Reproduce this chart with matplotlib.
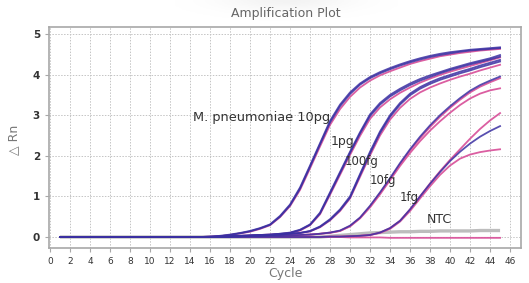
import numpy as np
import matplotlib
matplotlib.use("Agg")
import matplotlib.pyplot as plt

cycles = list(range(1, 46))
Z15 = [0.0] * 15  # flat baseline cycles 1-15

# M. pneumoniae 10pg (blue, blue, pink)
pg10_a = Z15 + [0.01, 0.03, 0.06, 0.10, 0.15, 0.22, 0.31, 0.52, 0.80, 1.22, 1.76, 2.31, 2.86, 3.26, 3.56,
                3.78, 3.94, 4.06, 4.16, 4.25, 4.33, 4.40, 4.46, 4.51, 4.55, 4.58, 4.61, 4.63, 4.65, 4.67]
pg10_b = Z15 + [0.01, 0.02, 0.05, 0.09, 0.14, 0.21, 0.30, 0.50, 0.78, 1.19, 1.73, 2.28, 2.82, 3.22, 3.52,
                3.75, 3.91, 4.03, 4.13, 4.22, 4.30, 4.37, 4.43, 4.48, 4.52, 4.56, 4.59, 4.61, 4.63, 4.65]
pg10_c = Z15 + [0.01, 0.02, 0.05, 0.09, 0.13, 0.20, 0.29, 0.49, 0.76, 1.16, 1.69, 2.23, 2.76, 3.15, 3.45,
                3.68, 3.85, 3.98, 4.08, 4.17, 4.26, 4.33, 4.39, 4.45, 4.49, 4.53, 4.56, 4.59, 4.61, 4.63]
# 1pg
pg1_a = Z15 + [0.00, 0.01, 0.02, 0.03, 0.04, 0.05, 0.06, 0.08, 0.11, 0.18, 0.31, 0.60, 1.10, 1.60, 2.10,
               2.58, 3.02, 3.30, 3.50, 3.65, 3.78, 3.89, 3.98, 4.06, 4.14, 4.21, 4.28, 4.34, 4.40, 4.48]
pg1_b = Z15 + [0.00, 0.01, 0.02, 0.03, 0.04, 0.05, 0.06, 0.08, 0.10, 0.17, 0.30, 0.58, 1.07, 1.57, 2.07,
               2.55, 2.98, 3.26, 3.46, 3.61, 3.74, 3.85, 3.94, 4.03, 4.11, 4.18, 4.25, 4.31, 4.37, 4.44]
pg1_c = Z15 + [0.00, 0.01, 0.02, 0.03, 0.04, 0.05, 0.06, 0.07, 0.10, 0.16, 0.29, 0.56, 1.04, 1.53, 2.02,
               2.49, 2.91, 3.19, 3.39, 3.55, 3.68, 3.80, 3.90, 3.99, 4.07, 4.14, 4.21, 4.28, 4.35, 4.42]
# 100fg
fg100_a = Z15 + [0.00, 0.00, 0.01, 0.02, 0.03, 0.04, 0.05, 0.06, 0.08, 0.10, 0.15, 0.26, 0.44, 0.68, 1.00,
                 1.55, 2.10, 2.60, 3.00, 3.30, 3.53, 3.69, 3.81, 3.91, 3.99, 4.07, 4.14, 4.22, 4.29, 4.36]
fg100_b = Z15 + [0.00, 0.00, 0.01, 0.02, 0.03, 0.04, 0.05, 0.06, 0.08, 0.10, 0.14, 0.25, 0.42, 0.66, 0.97,
                 1.52, 2.06, 2.56, 2.96, 3.26, 3.49, 3.65, 3.77, 3.87, 3.95, 4.03, 4.10, 4.18, 4.25, 4.32]
fg100_c = Z15 + [0.00, 0.00, 0.01, 0.02, 0.03, 0.04, 0.05, 0.06, 0.07, 0.10, 0.14, 0.24, 0.41, 0.64, 0.95,
                 1.48, 2.01, 2.50, 2.89, 3.18, 3.40, 3.56, 3.68, 3.78, 3.87, 3.95, 4.02, 4.10, 4.17, 4.24]
# 10fg
fg10_a = Z15 + [0.00, 0.00, 0.01, 0.01, 0.02, 0.02, 0.03, 0.03, 0.04, 0.05, 0.06, 0.08, 0.11, 0.16, 0.28,
                0.48, 0.77, 1.10, 1.45, 1.82, 2.16, 2.47, 2.75, 3.00, 3.22, 3.42, 3.60, 3.74, 3.85, 3.95]
fg10_b = Z15 + [0.00, 0.00, 0.01, 0.01, 0.02, 0.02, 0.03, 0.03, 0.04, 0.05, 0.06, 0.08, 0.11, 0.15, 0.27,
                0.47, 0.75, 1.08, 1.43, 1.79, 2.13, 2.43, 2.71, 2.96, 3.18, 3.38, 3.56, 3.70, 3.81, 3.91]
fg10_c = Z15 + [0.00, 0.00, 0.01, 0.01, 0.02, 0.02, 0.03, 0.03, 0.04, 0.05, 0.06, 0.08, 0.10, 0.15, 0.26,
                0.46, 0.73, 1.05, 1.40, 1.75, 2.07, 2.36, 2.62, 2.85, 3.06, 3.25, 3.41, 3.53, 3.61, 3.66]
# 1fg
fg1_a = Z15 + [0.00, 0.00, 0.00, 0.00, 0.00, 0.00, 0.00, 0.00, 0.00, 0.00, 0.00, 0.00, 0.01, 0.01, 0.02,
               0.03, 0.05, 0.11, 0.22, 0.40, 0.68, 1.00, 1.32, 1.62, 1.90, 2.16, 2.42, 2.66, 2.87, 3.05]
fg1_b = Z15 + [0.00, 0.00, 0.00, 0.00, 0.00, 0.00, 0.00, 0.00, 0.00, 0.00, 0.00, 0.00, 0.01, 0.01, 0.02,
               0.03, 0.05, 0.11, 0.22, 0.40, 0.68, 1.00, 1.31, 1.60, 1.87, 2.10, 2.30, 2.47, 2.61, 2.73]
fg1_c = Z15 + [0.00, 0.00, 0.00, 0.00, 0.00, 0.00, 0.00, 0.00, 0.00, 0.00, 0.00, 0.00, 0.01, 0.01, 0.02,
               0.03, 0.05, 0.10, 0.20, 0.38, 0.64, 0.95, 1.25, 1.53, 1.76, 1.93, 2.03, 2.09, 2.13, 2.16]
# NTC
ntc_gray = Z15 + [0.00, 0.00, 0.00, 0.00, 0.00, 0.00, 0.00, 0.00, 0.00, 0.00, 0.00, 0.00, 0.02, 0.04, 0.06,
                  0.08, 0.10, 0.11, 0.12, 0.13, 0.13, 0.14, 0.14, 0.15, 0.15, 0.15, 0.15, 0.16, 0.16, 0.16]
ntc_pink = Z15 + [0.00, 0.00, 0.00, 0.00, 0.00, 0.00, 0.00, 0.00, 0.00, 0.00, 0.00, 0.00, 0.00, 0.00, -0.01,
                  -0.01, -0.01, -0.01, -0.02, -0.02, -0.02, -0.02, -0.02, -0.02, -0.02, -0.02, -0.02, -0.02, -0.02, -0.02]

x_ticks = list(range(0, 47, 2))
y_ticks = [0, 1, 2, 3, 4, 5]

labels = ["M. pneumoniae 10pg", "1pg", "100fg", "10fg", "1fg", "NTC"]
label_pos = [(14.3, 2.93), (28.1, 2.36), (29.5, 1.87), (32.0, 1.40), (35.0, 0.98), (37.7, 0.44)]

BLUE = "#3b30a2"
PINK = "#d9559c"
GRAY = "#bdbdbd"

fig = plt.figure(figsize=(5.29, 2.83), dpi=100)
fig.patch.set_facecolor("white")

# soft gray glow behind the title
bg = fig.add_axes([0.33, 0.90, 0.42, 0.10], zorder=-5)
gx, gy = np.meshgrid(np.linspace(-1, 1, 200), np.linspace(-1, 1, 50))
glow = np.exp(-(gx ** 2) * 3 - (gy + 1.0) ** 2 * 1.5)
bg.imshow(glow, cmap="Greys", vmin=0, vmax=10, aspect="auto", origin="upper")
bg.axis("off")

ax = fig.add_axes([0.0926, 0.1237, 0.8924, 0.7809])
ax.set_facecolor("white")

ax.plot(cycles, ntc_gray, color=GRAY, lw=2.4, solid_capstyle="butt", zorder=2)
pinks = [ntc_pink, pg10_c, pg1_c, fg100_c, fg10_b, fg10_c, fg1_a, fg1_c]
blues = [pg10_a, pg10_b, pg1_a, pg1_b, fg100_a, fg100_b, fg10_a, fg1_b]
for s in pinks:
    ax.plot(cycles, s, color=PINK, lw=1.3, alpha=0.95, zorder=3)
for s in blues:
    ax.plot(cycles, s, color=BLUE, lw=1.3, alpha=0.85, zorder=4)

ax.set_xlim(-0.1, 47.1)
ax.set_ylim(-0.27, 5.17)
ax.set_xticks(x_ticks)
ax.set_yticks(y_ticks)
ax.grid(True, color="#c4c4c4", lw=0.7, linestyle=(0, (1.5, 1.5)))
ax.set_axisbelow(True)
for sp in ax.spines.values():
    sp.set_color("#a8a8a8")
    sp.set_linewidth(1.2)
ax.tick_params(axis="both", colors="#a8a8a8", length=3, width=0.8, labelcolor="#333333")
narrow = ["Liberation Sans Narrow", "DejaVu Sans"]
for t in ax.get_xticklabels():
    t.set_fontsize(6.5)
    t.set_family(narrow)
for t in ax.get_yticklabels():
    t.set_fontsize(7.5)
    t.set_family(narrow)
    t.set_fontweight("bold")

ax.set_xlabel("Cycle", fontsize=9, color="#777777", labelpad=1)
fig.text(0.025, 0.505, "△ Rn", rotation=90, fontsize=9, color="#777777", ha="center", va="center")
fig.text(0.54, 0.952, "Amplification Plot", fontsize=9, color="#666666", ha="center", va="center")

sizes = [9.3, 9, 8.5, 8.5, 8.5, 9]
fams = ["DejaVu Sans", "DejaVu Sans", narrow, narrow, narrow, "DejaVu Sans"]
for txt, (lx, ly), fs, fm in zip(labels, label_pos, sizes, fams):
    ax.text(lx, ly, txt, fontsize=fs, color="#333333", ha="left", va="center", family=fm, zorder=6)

fig.savefig("out.png", dpi=100, facecolor="white")
